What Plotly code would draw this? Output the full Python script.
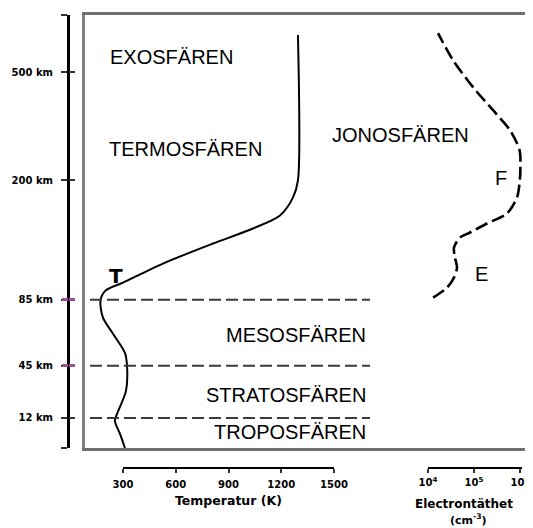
import plotly.graph_objects as go

# ---------------- data ----------------
# altitude positions are in diagram units (non-linear altitude scale, 0 = ground)
alt_tick_pos = [30, 82, 148, 267, 375]
alt_tick_text = ["12 km", "45 km", "85 km", "200 km", "500 km"]
alt_end_pos = [0, 432]
alt_plain_pos = [0, 30, 267, 375, 432]
alt_purple_pos = [82, 148]

layer_boundaries = [30, 82, 148]          # 12 km, 45 km, 85 km

temp_K = [311, 283, 254, 266, 317, 323, 311, 243, 186, 172, 200, 300,
          527, 812, 1039, 1193, 1267, 1295, 1295]
temp_h = [0, 14, 27, 34, 57, 82, 95, 114, 130, 147, 157, 165,
          184, 204, 219, 232, 250, 267, 412]

ion_n = [1.29e4, 2.59e4, 3.67e4, 4.27e4, 3.86e4, 3.67e4, 4.97e4, 8.18e4,
         1.92e5, 5.21e5, 8.6e5, 9.9e5, 1.02e6, 9.8e5, 6.07e5, 2.59e5,
         9.51e4, 3.49e4, 1.65e4]
ion_h = [150, 160, 170, 180, 190, 200, 210, 215, 224, 234, 250, 267, 280,
         297, 317, 337, 360, 387, 414]

temp_ticks = [300, 600, 900, 1200, 1500]
ne_ticks = [1e4, 1e5, 1e6]
ne_ticktext = ["10<sup>4</sup>", "10<sup>5</sup>", "10<sup>6</sup>"]

# ---------------- layout helpers ----------------
# the page body adds an 8px offset, so the figure is 8px smaller
OFF = 8
W, H = 533 - OFF, 528 - OFF
PLOT_TOP, PLOT_BOT = 15, 468        # in reference pixels
MT = PLOT_TOP - OFF
MB = 528 - PLOT_BOT
PH = PLOT_BOT - PLOT_TOP


def fx(x):
    return (x - OFF) / W


def fy(y):
    return (PLOT_BOT - y) / PH


ydom = [fy(448), fy(15)]
FONT = "DejaVu Sans"
SANS = "Liberation Sans"
PURPLE = "#9b4f96"
TICKC = "#333333"

fig = go.Figure()

fig.add_trace(go.Scatter(x=temp_K, y=temp_h, mode="lines", xaxis="x", yaxis="y",
                         line=dict(color="black", width=2, shape="spline", smoothing=0.8),
                         hoverinfo="skip", showlegend=False))
fig.add_trace(go.Scatter(x=ion_n, y=ion_h, mode="lines", xaxis="x3", yaxis="y",
                         line=dict(color="black", width=2.6, shape="spline", smoothing=0.8,
                                   dash="13px,5px"),
                         hoverinfo="skip", showlegend=False))
# carriers for the stand-alone axes
fig.add_trace(go.Scatter(x=[None], y=[None], xaxis="x2", yaxis="y", showlegend=False,
                         hoverinfo="skip"))
for ya in ["y2", "y3", "y4", "y5"]:
    fig.add_trace(go.Scatter(x=[None], y=[None], xaxis="x", yaxis=ya, showlegend=False,
                             hoverinfo="skip"))

# temperature scale: 300 K at px 123, 1500 K at px 334
k = (334 - 123) / 1200.0
t0 = 300 - (123 - 84.5) / k
t1 = t0 + (533 - 84.5) / k

tickfont = dict(size=10, family=FONT, weight="bold", color="black")


def tick_axis(vals, color, side, width):
    return dict(domain=ydom, range=[0, 432], overlaying="y", anchor="free",
                position=fx(68), showgrid=False, zeroline=False, showline=False,
                ticks=side, ticklen=6, tickwidth=width, tickcolor=color,
                tickvals=vals, showticklabels=False, automargin=False)


fig.update_layout(
    width=W, height=H,
    margin=dict(l=0, r=0, t=MT, b=MB, autoexpand=False),
    paper_bgcolor="white", plot_bgcolor="rgba(0,0,0,0)",
    font=dict(family=FONT, color="black"),
    xaxis=dict(domain=[fx(84.5), 1.0], range=[t0, t1], showgrid=False, zeroline=False,
               showticklabels=False, ticks="", showline=True, mirror=True,
               linecolor="#707070", linewidth=3, anchor="y", automargin=False),
    yaxis=dict(domain=ydom, range=[0, 432], showgrid=False, zeroline=False,
               showticklabels=False, ticks="", showline=True, linecolor="#808080",
               linewidth=3, anchor="x", automargin=False),
    yaxis2=dict(domain=ydom, range=[0, 432], overlaying="y", anchor="free",
                position=fx(68), showgrid=False, zeroline=False, showline=True,
                linecolor="black", linewidth=3, ticks="outside", ticklen=6,
                tickwidth=2, tickcolor=TICKC, tickvals=alt_tick_pos,
                ticktext=alt_tick_text, tickfont=tickfont, ticklabelstandoff=6,
                minor=dict(tickmode="array", tickvals=alt_end_pos, ticks="outside",
                           ticklen=6, tickwidth=2, tickcolor=TICKC),
                automargin=False),
    yaxis3=tick_axis(alt_purple_pos, PURPLE, "outside", 3),
    yaxis4=tick_axis(alt_plain_pos, TICKC, "inside", 2),
    yaxis5=tick_axis(alt_purple_pos, PURPLE, "inside", 3),
    xaxis2=dict(domain=[fx(123), fx(334)], range=[300, 1500],
                anchor="free", position=0, showgrid=False, zeroline=False,
                showline=True, linecolor="black", linewidth=2, ticks="outside",
                ticklen=4, tickwidth=2, tickcolor=TICKC, tickvals=temp_ticks,
                tickfont=tickfont, ticklabelstandoff=3, automargin=False),
    xaxis3=dict(domain=[fx(428), fx(522)], type="log", range=[4, 4 + 94 / 46.0],
                anchor="free", position=0, showgrid=False,
                zeroline=False, showline=True, linecolor="black", linewidth=2,
                ticks="outside", ticklen=4, tickwidth=2, tickcolor=TICKC,
                tickvals=ne_ticks, ticktext=ne_ticktext, tickfont=tickfont,
                ticklabelstandoff=1, automargin=False),
)

for h in layer_boundaries:
    fig.add_shape(type="line", xref="paper", yref="y", x0=fx(90), x1=fx(370),
                  y0=h, y1=h, line=dict(color="#3a3a3a", width=2, dash="12px,5px"))

labels = [
    ("EXOSFÄREN", 171, 57, "center"),
    ("TERMOSFÄREN", 185, 149, "center"),
    ("JONOSFÄREN", 400, 135, "center"),
    ("F", 501, 178, "center"),
    ("E", 481, 274, "center"),
    ("MESOSFÄREN", 368, 335, "right"),
    ("STRATOSFÄREN", 368, 395, "right"),
    ("TROPOSFÄREN", 368, 432, "right"),
]
for txt, x, y, al in labels:
    fig.add_annotation(text=txt, xref="paper", yref="paper", x=fx(x), y=fy(y),
                       xanchor=al, yanchor="middle", showarrow=False,
                       font=dict(size=20, family=SANS, color="black"))

fig.add_annotation(text="T", xref="paper", yref="paper", x=fx(115.5), y=fy(276),
                   xanchor="center", yanchor="middle", showarrow=False,
                   font=dict(size=20, family=FONT, weight="bold", color="black"))

titles = [
    ("Temperatur (K)", 228, 501, 12.5),
    ("Electrontäthet", 464, 504, 12),
    ("(cm<sup>-3</sup>)", 469, 520, 11),
]
for txt, x, y, s in titles:
    fig.add_annotation(text=txt, xref="paper", yref="paper", x=fx(x), y=fy(y),
                       xanchor="center", yanchor="middle", showarrow=False,
                       font=dict(size=s, family=FONT, weight="bold", color="black"))

fig.write_html("out.html")
